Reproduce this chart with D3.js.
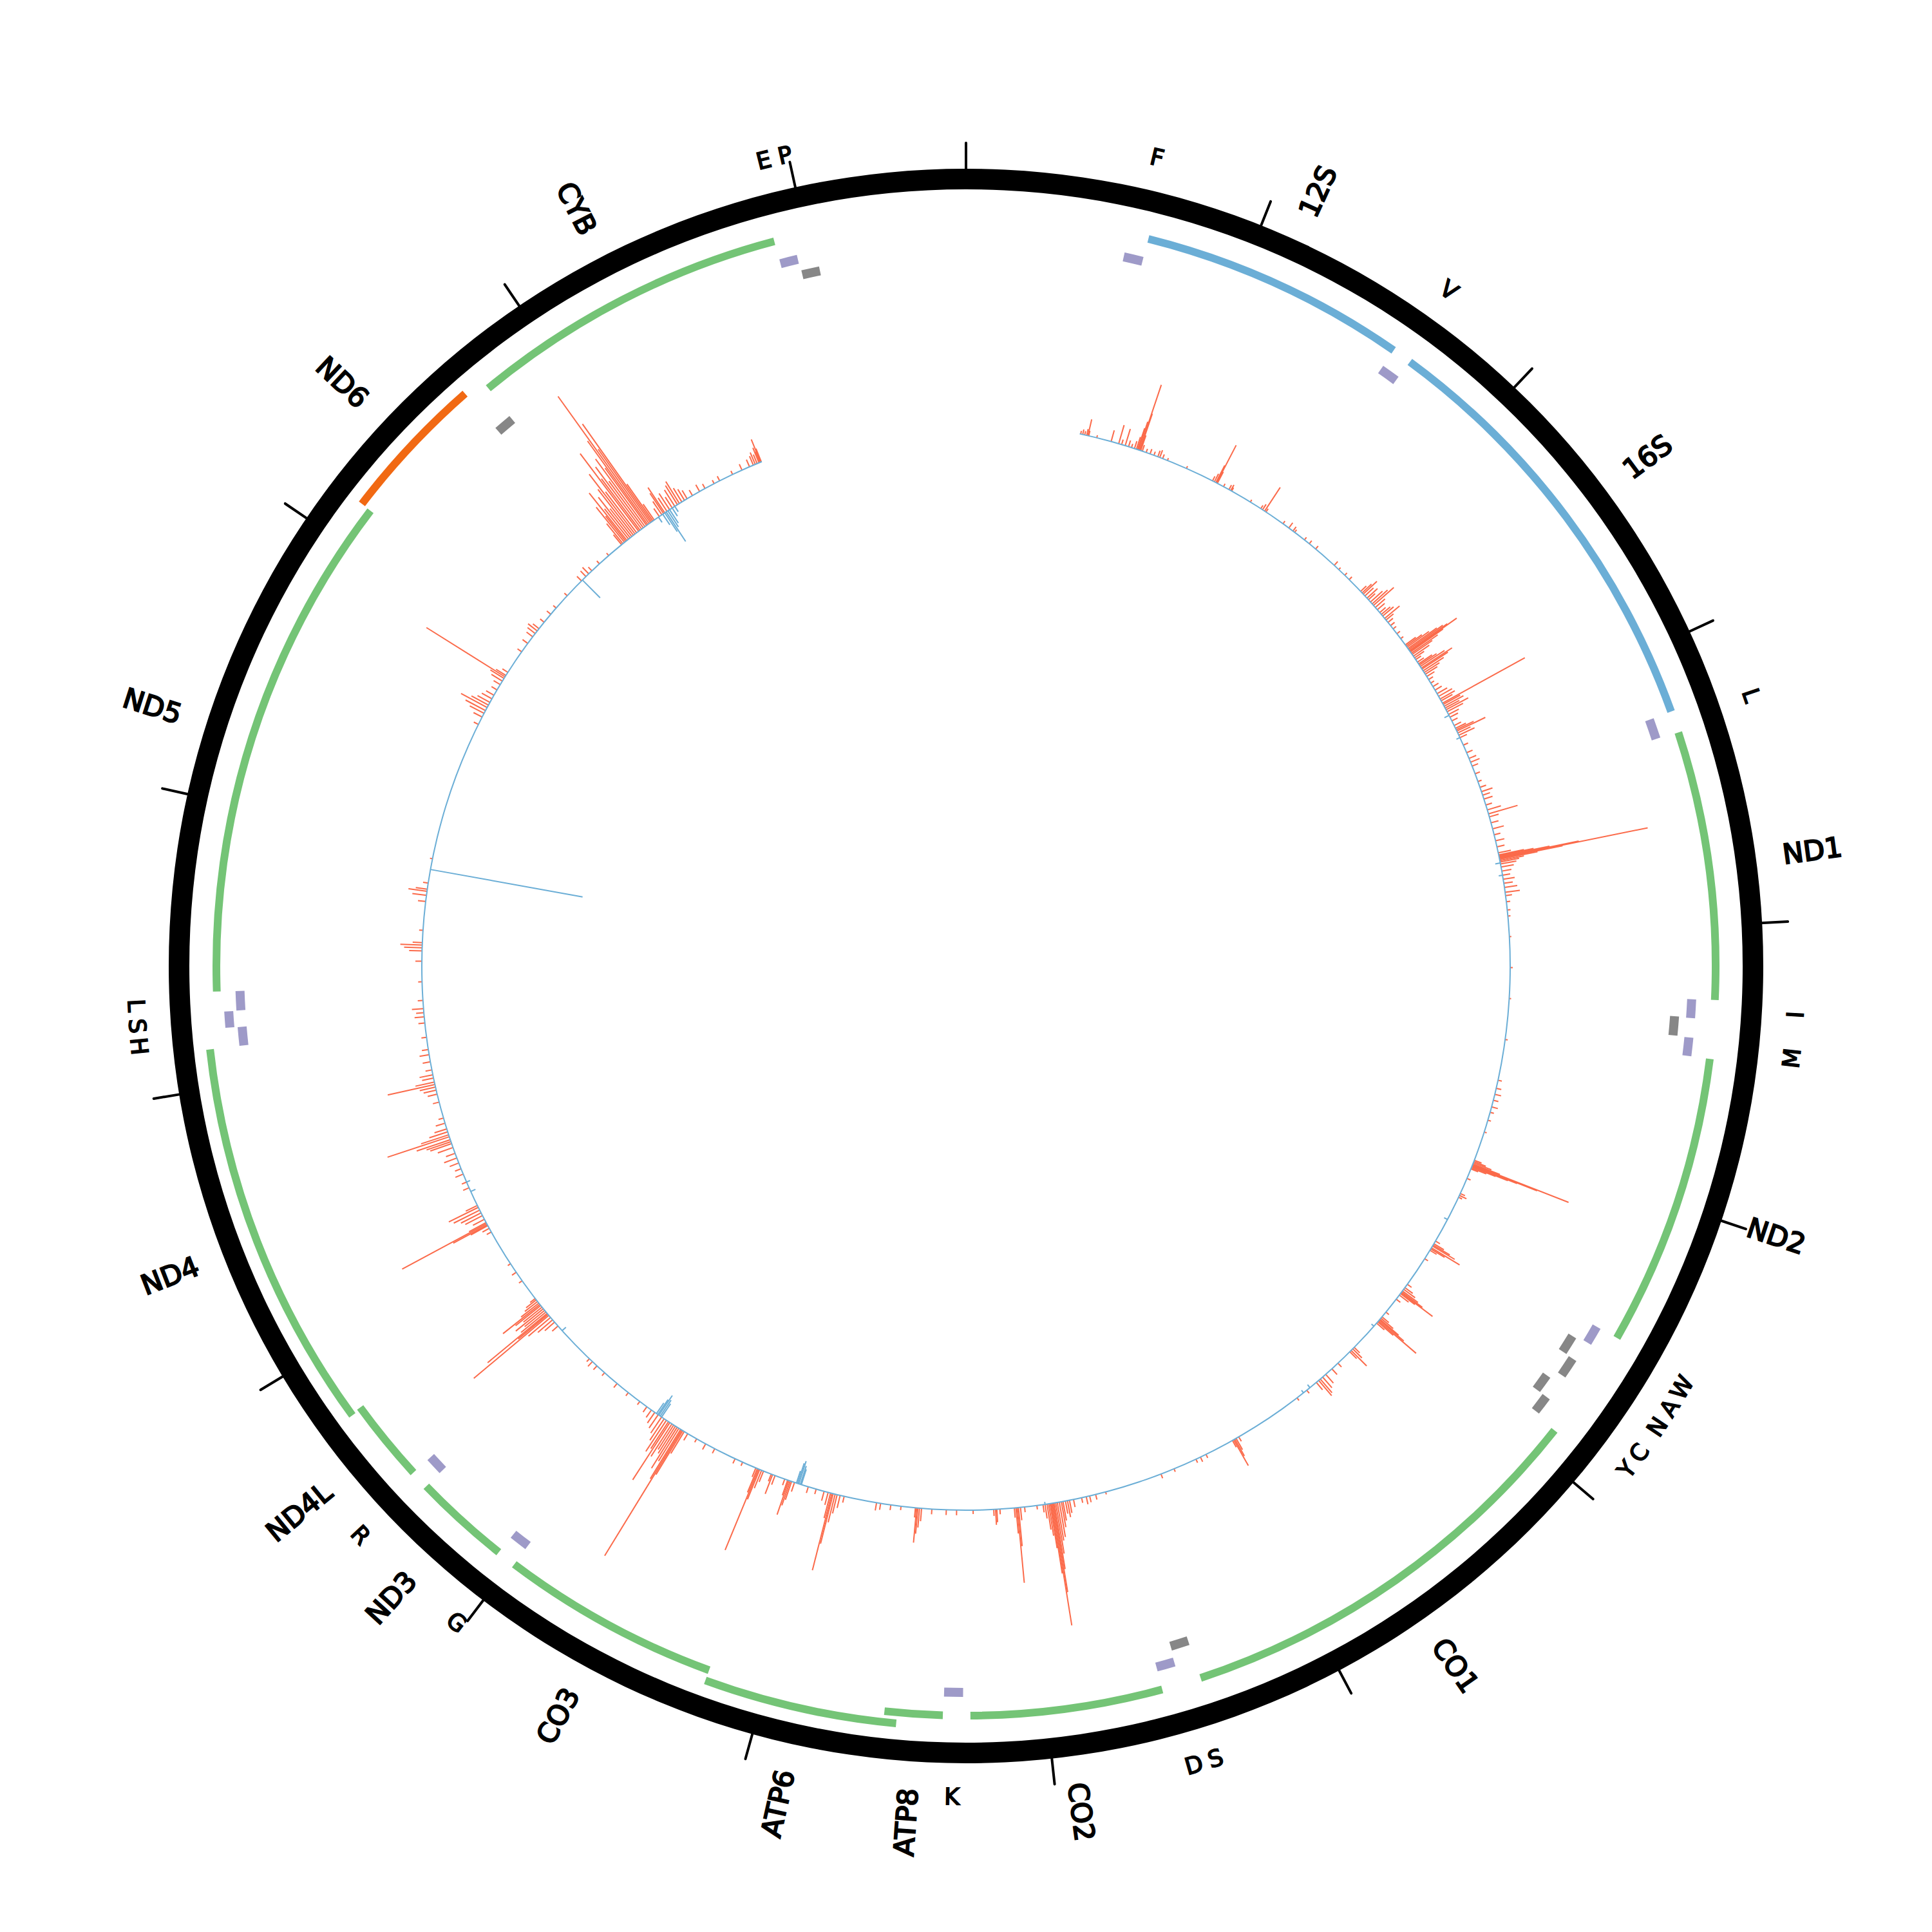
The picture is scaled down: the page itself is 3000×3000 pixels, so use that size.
<!DOCTYPE html>
<html><head><meta charset="utf-8">
<script src="https://cdn.jsdelivr.net/npm/d3@7"></script>
<style>body{margin:0;background:#fff}</style>
</head><body>
<svg id="chart" width="3000" height="3000"></svg>
<script>
// ---------- DATA ----------
const genomeLength = 16569;
const tickPositions = d3.range(0, 16001, 1000);

const geneNames   = ["12S","16S","ND1","ND2","CO1","CO2","ATP8","ATP6","CO3","ND3","ND4L","ND4","ND5","ND6","CYB"];
const geneStarts  = [648,1671,3307,4470,5904,7586,8366,8527,9207,10059,10470,10760,12337,14149,14747];
const geneEnds    = [1601,3229,4262,5511,7445,8269,8572,9207,9990,10404,10766,12137,14148,14673,15887];
const geneTypes   = ["rRNA","rRNA","CDS","CDS","CDS","CDS","CDS","CDS","CDS","CDS","CDS","CDS","CDS","CDS","CDS"];
const geneStrands = ["H","H","H","H","H","H","H","H","H","H","H","H","H","L","H"];

const trnaIds     = ["F","V","L1","I","Q","M","W","A","N","C","Y","S1","D","K","G","R","H","S2","L2","E","T","P"];
const trnaStarts  = [577,1602,3230,4263,4329,4402,5512,5587,5657,5761,5826,7446,7518,8295,9991,10405,12138,12207,12266,14674,15888,15956];
const trnaEnds    = [647,1670,3304,4331,4400,4469,5579,5655,5729,5826,5891,7514,7585,8364,10058,10469,12206,12265,12336,14742,15953,16023];
const trnaStrands = ["H","H","H","H","L","H","H","L","L","L","L","L","H","H","H","H","H","H","H","L","H","L"];
const trnaLabels  = ["F","V","L","I","","M","W","A","N","C","Y","S","D","K","G","R","H","S","L","","E","P"];

const signalStart = 555, signalEnd = 15555;

const forwardPos = [560,570,580,590,596,600,640,712,750,765,783,800,815,830,840,846,850,855,858,862,870,890,910,930,950,960,975,1000,
 1100,1240,1250,1258,1262,1266,1300,1330,1340,1345,1450,1510,1520,1532,1540,1640,1675,1700,1710,1770,1800,1840,1960,1990,2030,2060,
 2140,2150,2158,2170,2185,2195,2210,2222,2232,2245,2260,2278,2290,2300,2315,2325,2340,2360,2380,2410,2440,
 2478,2485,2492,2500,2506,2512,2516,2520,2528,2535,2545,2555,2565,2580,2590,2597,2605,2614,2620,2630,2640,2650,2663,2680,2700,
 2720,2740,2760,2775,2790,2800,2813,2820,2830,2840,2849,2860,2875,2890,2910,2935,2950,2958,2965,2975,2987,3000,
 3040,3080,3110,3130,3150,3190,3230,3260,3282,3300,3320,3350,3375,3395,3410,3440,3470,3500,3530,3560,3590,
 3600,3604,3608,3612,3615,3618,3622,3628,3635,3645,3660,3680,3700,3720,3740,3760,3784,3800,3830,3870,3900,
 4000,4150,4300,4500,4700,4740,4770,4800,4833,4860,4900,4960,
 5105,5112,5118,5124,5128,5131,5134,5137,5140,5145,5150,5200,5280,5290,5300,
 5540,5555,5562,5568,5578,5584,5592,5640,
 5790,5810,5820,5830,5836,5841,5846,5855,5880,5960,5990,5998,6005,6010,6016,6022,6030,
 6190,6200,6211,6220,6300,6340,6380,6400,6415,6425,6440,6500,6560,
 6900,6915,6922,6928,6935,7080,7110,7134,7250,7318,
 7600,7650,7680,7697,7720,7760,7780,7790,7800,7812,7820,7830,7840,7848,7855,7860,7865,7870,7875,7882,7890,7900,7910,7940,8000,8020,8030,8036,8042,8050,8120,8135,8141,8150,
 8250,8330,8380,8450,8500,8510,8518,8524,8530,8600,8650,8700,8720,
 8880,8900,8915,8925,8935,8941,8948,8960,8980,9020,9060,9130,9145,9152,9159,9165,9180,9230,9243,9250,9290,9300,9310,9316,9322,9330,9400,9440,
 9550,9600,9650,9700,9720,9728,9734,9740,9750,9760,9770,9780,9790,9802,9810,9822,9835,9850,9870,9890,9910,9937,9980,
 10050,10120,10200,10250,10280,10300,
 10520,10545,10560,10575,10588,10595,10601,10610,10620,10630,10640,10650,10657,10665,10675,10685,10693,
 10800,10850,10900,
 11080,11100,11115,11120,11126,11132,11150,11170,11185,11200,11215,11225,
 11320,11350,11392,11420,11450,11476,11500,11530,11550,11560,11570,11585,11595,11610,11625,11654,11680,
 11760,11800,11820,11835,11848,11860,11880,11896,11920,11960,11995,12020,12080,12150,12180,12200,12220,12260,12350,12450,12500,12515,12528,12540,12600,
 12740,12770,12790,12800,12830,12950,
 13640,13680,13700,13715,13732,13745,13760,13780,13800,13830,13860,13880,13895,13904,13912,13930,
 14050,14100,14140,14160,14176,14190,14230,14280,14320,14400,14500,14530,14549,14570,14620,14680,
 14762,14770,14780,14788,14795,14805,14815,14825,14835,14845,14855,14867,14875,14885,14895,14905,14915,14922,14930,14938,14945,14952,14960,
 14990,15005,15015,15022,15035,15050,15065,15080,15095,15106,15120,15135,15150,15180,15220,15250,15300,
 15330,15400,15450,15490,15510,15520,15530,15540,15545,15548,15552];
const forwardVal = [5,8,6,10,26,8,4,18,30,8,27,10,6,12,20,35,46,107,60,25,10,6,8,6,10,12,7,4,
 4,8,14,30,66,20,5,8,10,6,4,6,10,44,6,5,10,8,5,5,6,6,8,4,5,6,
 12,20,29,18,22,14,25,32,42,20,15,12,18,22,30,15,10,8,6,6,5,
 20,30,42,55,65,72,89,62,50,38,30,18,10,12,25,32,45,57,48,38,28,22,14,8,6,
 10,12,18,24,26,20,146,30,34,25,39,28,18,14,10,12,18,30,49,22,27,12,
 8,10,12,15,10,8,6,10,18,12,14,10,22,47,15,12,18,10,14,12,20,
 40,55,80,126,235,100,60,38,30,25,20,15,12,18,14,20,23,10,6,5,4,
 3,4,3,4,6,8,10,8,10,6,5,4,
 12,20,30,45,160,108,75,60,40,25,12,6,8,12,6,
 8,18,30,40,51,25,12,6,
 8,15,22,30,40,61,28,18,8,6,14,25,38,50,77,32,16,
 12,20,34,15,8,12,18,22,28,31,15,6,5,
 8,20,30,46,12,6,8,6,5,7,
 4,8,10,12,8,12,20,26,20,30,40,55,60,80,104,140,192,110,70,50,40,22,12,6,8,20,60,117,40,15,8,20,24,10,
 6,8,8,8,20,30,40,54,15,6,8,10,12,
 10,20,30,45,80,123,40,20,15,8,10,15,30,40,56,25,10,15,32,12,18,30,50,136,40,15,6,8,
 8,10,6,12,40,80,229,90,60,75,50,45,60,106,50,58,40,30,25,20,14,10,6,
 6,8,6,8,10,6,
 12,20,30,45,152,60,120,50,40,55,37,50,73,35,25,20,10,
 6,8,5,
 8,12,30,60,149,30,20,30,35,45,51,20,
 10,8,13,10,15,21,15,25,35,40,55,101,45,30,20,15,8,
 10,15,20,25,75,30,18,21,10,12,15,10,8,10,15,12,18,8,6,10,20,28,34,15,6,
 12,22,29,18,8,4,
 8,15,25,35,46,30,22,18,14,10,12,20,25,144,18,10,
 8,10,12,15,18,12,8,8,6,6,10,12,14,8,6,5,
 20,40,70,50,94,60,80,55,90,117,80,151,100,120,90,130,110,160,243,140,186,70,30,
 15,25,38,47,25,30,20,30,35,40,25,20,15,10,12,8,6,
 8,6,10,12,15,20,15,25,18,38,22];

const reversePos = [2880,3000,3640,3700,5420,6050,6480,6520,7900,9095,9100,9108,9114,9120,9850,9858,9866,9872,9880,10490,11300,11350,12897,14506,14985,15010,15022,15030,15040,15050,15065,15080];
const reverseVal = [8,6,8,6,6,5,6,5,4,25,30,37,33,20,25,30,37,28,20,8,8,6,240,39,10,20,35,55,30,25,15,10];

// ---------- DRAWING ----------
const svg = d3.select("#chart");
const g = svg.append("g").attr("transform", "translate(1500,1500)");
const angle = d3.scaleLinear().domain([0, genomeLength]).range([0, 2 * Math.PI]);
const sig = d3.scaleLinear().domain([0, 250]).range([0, 250]);
const baseR = 845;
const pt = (a, r) => [Math.sin(a) * r, -Math.cos(a) * r];

// lanes for overlapping features
function assignLanes(items, pad) {
  const ends = [];
  items.slice().sort((a, b) => a.start - b.start).forEach(d => {
    let lane = ends.findIndex(e => d.start > e + pad);
    if (lane < 0) { lane = ends.length; ends.push(0); }
    ends[lane] = d.end; d.lane = lane;
  });
  return items;
}

const genes = assignLanes(geneNames.map((n, i) => ({name: n, start: geneStarts[i], end: geneEnds[i], type: geneTypes[i], strand: geneStrands[i]})), 10);
const trnas = trnaIds.map((n, i) => ({id: n, start: trnaStarts[i], end: trnaEnds[i], strand: trnaStrands[i], label: trnaLabels[i]}));
assignLanes(trnas.filter(d => d.strand === "H"), 10);
assignLanes(trnas.filter(d => d.strand === "L"), 10);

// signal track
const spikes = g.append("g");
forwardPos.forEach((p, i) => {
  const a = angle(p);
  const [x1, y1] = pt(a, baseR), [x2, y2] = pt(a, baseR + sig(forwardVal[i]));
  spikes.append("line").attr("x1", x1).attr("y1", y1).attr("x2", x2).attr("y2", y2)
    .attr("stroke", "#fb6a4a").attr("stroke-width", 2);
});
g.append("path")
  .attr("d", d3.arc().innerRadius(baseR - 1).outerRadius(baseR + 1)
    .startAngle(angle(signalStart)).endAngle(angle(signalEnd))())
  .attr("fill", "#6baed6");
reversePos.forEach((p, i) => {
  const a = angle(p);
  const [x1, y1] = pt(a, baseR), [x2, y2] = pt(a, baseR - sig(reverseVal[i]));
  spikes.append("line").attr("x1", x1).attr("y1", y1).attr("x2", x2).attr("y2", y2)
    .attr("stroke", "#6baed6").attr("stroke-width", 2);
});

// genes
const geneColor = d => d.type === "rRNA" ? "#6baed6" : (d.strand === "L" ? "#f16913" : "#74c476");
const geneR = [1164, 1181];
g.append("g").selectAll("path").data(genes).join("path")
  .attr("d", d => d3.arc().innerRadius(geneR[d.lane] - 6).outerRadius(geneR[d.lane] + 6)
    .startAngle(angle(d.start)).endAngle(angle(d.end))())
  .attr("fill", geneColor);

// tRNAs
const trnaR = {H: [1128, 1147], L: [1103, 1122]};
g.append("g").selectAll("path").data(trnas).join("path")
  .attr("d", d => d3.arc().innerRadius(trnaR[d.strand][d.lane] - 7).outerRadius(trnaR[d.strand][d.lane] + 7)
    .startAngle(angle(d.start)).endAngle(angle(d.end))())
  .attr("fill", d => d.strand === "H" ? "#9e9ac8" : "#878787");

// outer ring + ticks
g.append("path")
  .attr("d", d3.arc().innerRadius(1206).outerRadius(1238).startAngle(0).endAngle(2 * Math.PI)())
  .attr("fill", "#000");
g.append("g").selectAll("line").data(tickPositions).join("line")
  .attr("x1", d => pt(angle(d), 1236)[0]).attr("y1", d => pt(angle(d), 1236)[1])
  .attr("x2", d => pt(angle(d), 1278)[0]).attr("y2", d => pt(angle(d), 1278)[1])
  .attr("stroke", "#000").attr("stroke-width", 4).attr("stroke-linecap", "round");

// gene labels (radial)
g.append("g").selectAll("text").data(genes).join("text")
  .attr("transform", d => {
    const a = angle((d.start + d.end) / 2), deg = a * 180 / Math.PI;
    const [x, y] = pt(a, 1280);
    return `translate(${x},${y}) rotate(${deg < 180 ? deg - 90 : deg + 90})`;
  })
  .attr("text-anchor", d => angle((d.start + d.end) / 2) < Math.PI ? "start" : "end")
  .attr("dominant-baseline", "central")
  .attr("font-family", "DejaVu Sans").attr("font-weight", "normal").attr("font-size", 43)
  .attr("stroke", "#000").attr("stroke-width", 2.2)
  .text(d => d.name);

// tRNA labels (tangential)
g.append("g").selectAll("text").data(trnas.filter(d => d.label)).join("text")
  .attr("transform", d => {
    const a = angle((d.start + d.end) / 2), deg = a * 180 / Math.PI;
    const [x, y] = pt(a, 1290);
    return `translate(${x},${y}) rotate(${deg > 90 && deg < 270 ? deg - 180 : deg})`;
  })
  .attr("text-anchor", "middle").attr("dominant-baseline", "central")
  .attr("font-family", "DejaVu Sans").attr("font-weight", "normal").attr("font-size", 36)
  .attr("stroke", "#000").attr("stroke-width", 1.8)
  .text(d => d.label);
</script>
</body></html>
